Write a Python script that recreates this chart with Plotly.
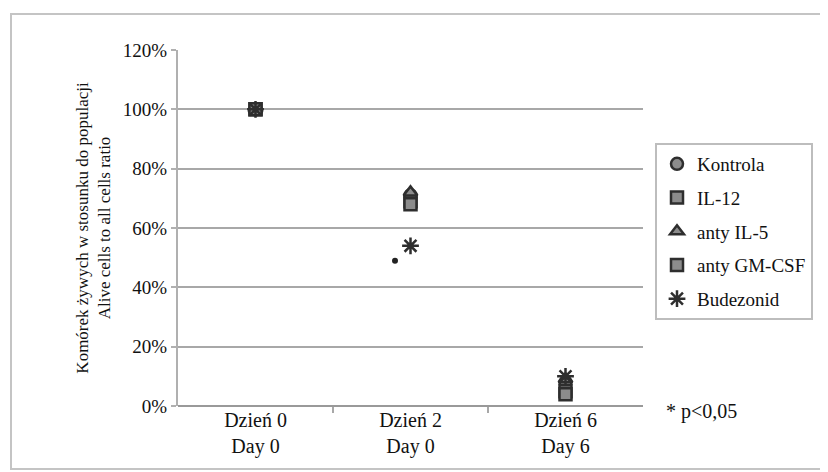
import plotly.graph_objects as go

categories = ["Dzień 0<br>Day 0", "Dzień 2<br>Day 0", "Dzień 6<br>Day 6"]
series_names = ["Kontrola", "IL-12", "anty IL-5", "anty GM-CSF", "Budezonid"]
kontrola = [100, 71, 8]
il12 = [100, 69, 5]
anty_il5 = [100, 72, 9]
anty_gmcsf = [100, 68, 4]
budezonid = [100, 54, 10]
sig_category = [1]
sig_value = [49]
y_ticks = [0, 20, 40, 60, 80, 100, 120]
y_ticklabels = ["0%", "20%", "40%", "60%", "80%", "100%", "120%"]

series_values = [kontrola, il12, anty_il5, anty_gmcsf, budezonid]
symbols = ["circle", "square", "triangle-up", "square", "asterisk-open"]
sizes = [12, 12, 12, 12, 14]

FONT = "Liberation Serif, Times New Roman, serif"
DARK = "#2e2e2e"

# page offset (body margin) and target pixel geometry of the reference
OFF = 8
W, H = 828 - OFF, 472 - OFF
L, R, T, B = 178 - OFF, 643 - OFF, 50 - OFF, 406 - OFF
pw, ph = R - L, B - T


def px(x):
    return (x - OFF - L) / pw


def py(y):
    return (B - (y - OFF)) / ph


fig = go.Figure()
xs = list(range(len(categories)))
for i, (name, vals, sym, sz) in enumerate(zip(series_names, series_values, symbols, sizes)):
    fig.add_trace(go.Scatter(
        x=xs, y=vals, mode="markers", name=name, legendgroup=f"g{i}",
        marker=dict(symbol=sym, size=sz, color="#8c8c8c" if "open" not in sym else DARK,
                    line=dict(color=DARK, width=2.5)),
    ))

fig.add_trace(go.Scatter(
    x=[c - 0.1 for c in sig_category], y=sig_value, mode="markers",
    showlegend=False,
    marker=dict(symbol="circle", size=6, color="#222222"),
))

fig.add_shape(type="rect", xref="paper", yref="paper",
              x0=px(11), x1=px(825), y0=py(469), y1=py(14),
              line=dict(color="#c4c4c4", width=2), layer="below")

fig.add_annotation(xref="paper", yref="paper", x=px(664), y=py(411),
                   text="* p<0,05", showarrow=False, xanchor="left", yanchor="middle",
                   font=dict(family=FONT, size=20, color="#111111"))

fig.update_layout(
    width=W, height=H,
    margin=dict(l=L, r=W - R, t=T, b=H - B, autoexpand=False),
    paper_bgcolor="white", plot_bgcolor="white",
    font=dict(family=FONT, size=19, color="#111111"),
    showlegend=True,
    legend=dict(x=px(655), y=py(143), xanchor="left", yanchor="top",
                bordercolor="#bdbdbd", borderwidth=2, bgcolor="white",
                font=dict(family=FONT, size=19), tracegroupgap=6,
                itemwidth=30),
    xaxis=dict(range=[-0.5, 2.5], tickvals=xs, ticktext=categories,
               showgrid=False, zeroline=False, showline=False, ticks="",
               minor=dict(tickvals=[0.5, 1.5], ticks="outside", ticklen=6,
                          tickcolor="#a8a8a8", tickwidth=2),
               tickfont=dict(family=FONT, size=20)),
    yaxis=dict(range=[0, 120], tickvals=y_ticks, ticktext=y_ticklabels,
               showgrid=True, gridcolor="#a8a8a8", gridwidth=1.5,
               zeroline=True, zerolinecolor="#999999", zerolinewidth=2,
               showline=True, linecolor="#b0b0b0", linewidth=2,
               ticks="outside", ticklen=5, tickcolor="#b0b0b0", tickwidth=1.5,
               tickfont=dict(family=FONT, size=19),
               title=dict(text="Komórek żywych w stosunku do populacji<br>Alive cells to all cells ratio",
                          font=dict(family=FONT, size=17), standoff=8)),
)

fig.write_html("out.html")
